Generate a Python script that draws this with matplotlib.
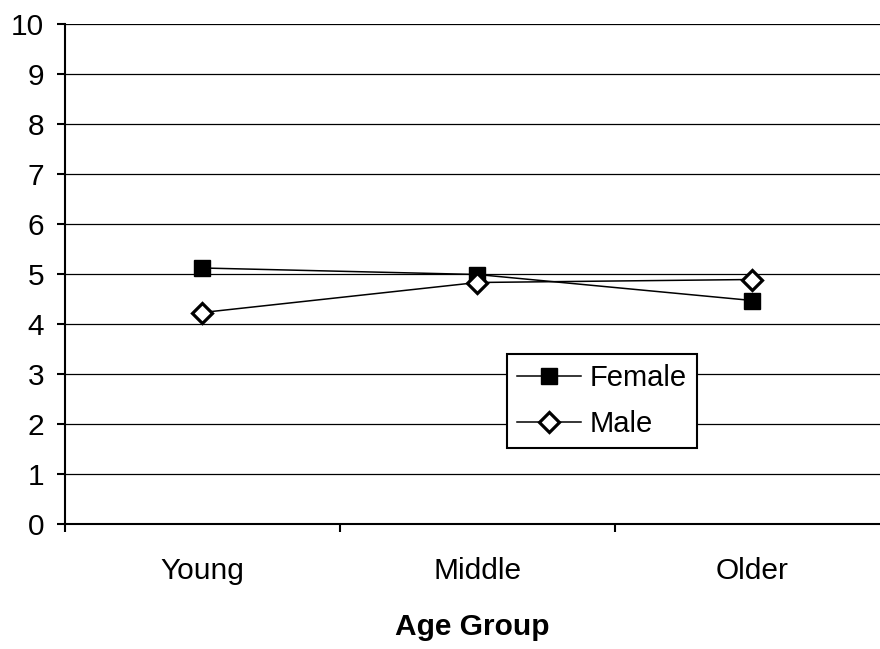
import matplotlib
matplotlib.use("Agg")
import matplotlib.pyplot as plt

plt.rcParams['font.family'] = ['Liberation Sans', 'DejaVu Sans']

groups = ["Young", "Middle", "Older"]
female = [5.12, 4.99, 4.47]
male = [4.23, 4.83, 4.89]
y_ticks = list(range(0, 11))

fig = plt.figure(figsize=(8.8, 6.49), dpi=100)
ax = fig.add_axes([65 / 880, 1 - 524 / 649, 815 / 880, 500 / 649])

x = list(range(len(groups)))
for yv in y_ticks[1:]:
    ax.axhline(yv, color='black', lw=0.9, zorder=1)

ax.plot(x, female, color='black', lw=1.1, marker='s', markersize=12,
        markerfacecolor='black', markeredgecolor='black', label='Female', zorder=3)
ax.plot(x, male, color='black', lw=1.1, marker='D', markersize=10.5,
        markerfacecolor='white', markeredgecolor='black', markeredgewidth=2.3,
        label='Male', zorder=3)

ax.set_xlim(-0.5, 2.465)
ax.set_ylim(0, 10)
ax.set_yticks(y_ticks)
ax.set_yticklabels([str(v) for v in y_ticks], fontsize=21.5)
ax.set_xticks([-0.5, 0.5, 1.5])
ax.set_xticklabels([])
ax.set_xticks(x, minor=True)
ax.set_xticklabels(groups, minor=True, fontsize=21.5)
ax.tick_params(axis='x', which='minor', length=0, pad=24)
ax.tick_params(axis='x', which='major', length=6, width=1.5, direction='out')
ax.tick_params(axis='y', length=6, width=1.5, direction='out', pad=9)

for side in ['top', 'right']:
    ax.spines[side].set_visible(False)
ax.spines['left'].set_linewidth(1.5)
ax.spines['bottom'].set_linewidth(1.5)

ax.set_xlabel("Age Group", fontsize=21.5, fontweight='bold', labelpad=20)

leg = ax.legend(loc='upper left', bbox_to_anchor=(0.542, 0.34), fontsize=21,
                frameon=True, fancybox=False, borderaxespad=0, borderpad=0.35,
                handlelength=2.2, handletextpad=0.3, labelspacing=0.6)
leg.get_frame().set_edgecolor('black')
leg.get_frame().set_linewidth(1.5)
leg.get_frame().set_alpha(1)

fig.savefig("out.png", dpi=100)
